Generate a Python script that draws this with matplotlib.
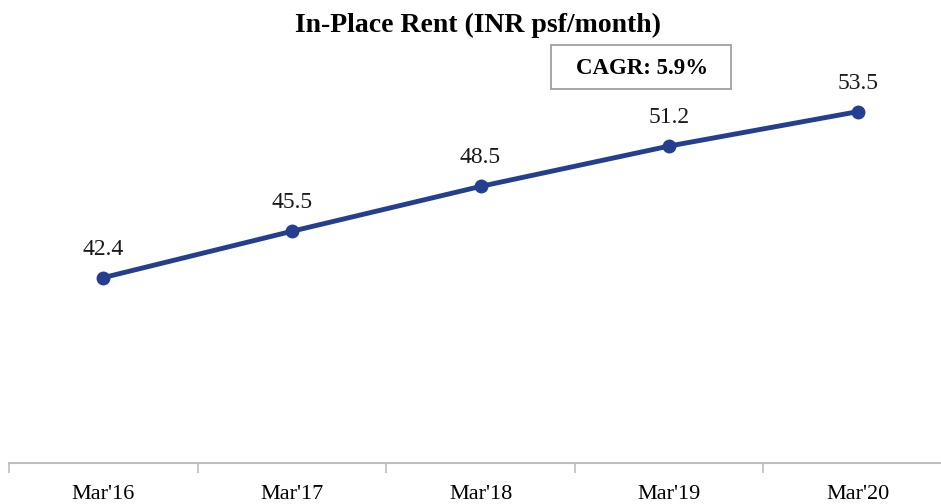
import matplotlib.pyplot as plt
from matplotlib.patches import Rectangle
import numpy as np

years = ["Mar'16", "Mar'17", "Mar'18", "Mar'19", "Mar'20"]
rent = [42.4, 45.5, 48.5, 51.2, 53.5]
cagr_text = "CAGR: 5.9%"

plt.rcParams['font.family'] = ['Liberation Serif', 'DejaVu Serif']

line_color = "#243F8F"
grey = "#BFBFBF"
W, H = 941, 504

fig = plt.figure(figsize=(W / 100, H / 100), dpi=100)
# axes spans one category width per point; right edge runs past the canvas
ax = fig.add_axes([9 / W, 41 / H, 943 / W, 448.5 / H])

x = np.arange(len(years))
ax.plot(x, rent, color=line_color, linewidth=3.5, marker="o",
        markersize=9, solid_capstyle="round", zorder=3)

for xi, v in zip(x, rent):
    ax.annotate(f"{v:.1f}", (xi, v), xytext=(0, 13), textcoords="offset points",
                ha="center", va="bottom", fontsize=17, color="#1a1a1a")

ax.set_xlim(-0.5, len(years) - 0.5)
ax.set_ylim(30, 60)

ax.set_xticks(x)
ax.set_xticklabels(years, fontsize=16)
ax.set_xticks(np.arange(-0.5, len(years)), minor=True)
ax.tick_params(axis="x", which="major", length=0, pad=16)
ax.tick_params(axis="x", which="minor", length=7, color=grey, width=1.2)
ax.set_yticks([])

for side in ["top", "right", "left"]:
    ax.spines[side].set_visible(False)
ax.spines["bottom"].set_color(grey)
ax.spines["bottom"].set_linewidth(1.5)

fig.text(478 / W, 1 - 32 / H, "In-Place Rent (INR psf/month)",
         ha="center", va="baseline", fontsize=20, fontweight="bold")

fig.patches.append(Rectangle((551 / W, 1 - 89 / H), 180 / W, 44 / H,
                             transform=fig.transFigure, facecolor="white",
                             edgecolor="#A6A6A6", linewidth=1.4))
fig.text(642 / W, 1 - 74 / H, cagr_text, ha="center", va="baseline",
         fontsize=16.5, fontweight="bold")

fig.savefig("out.png", dpi=100)
